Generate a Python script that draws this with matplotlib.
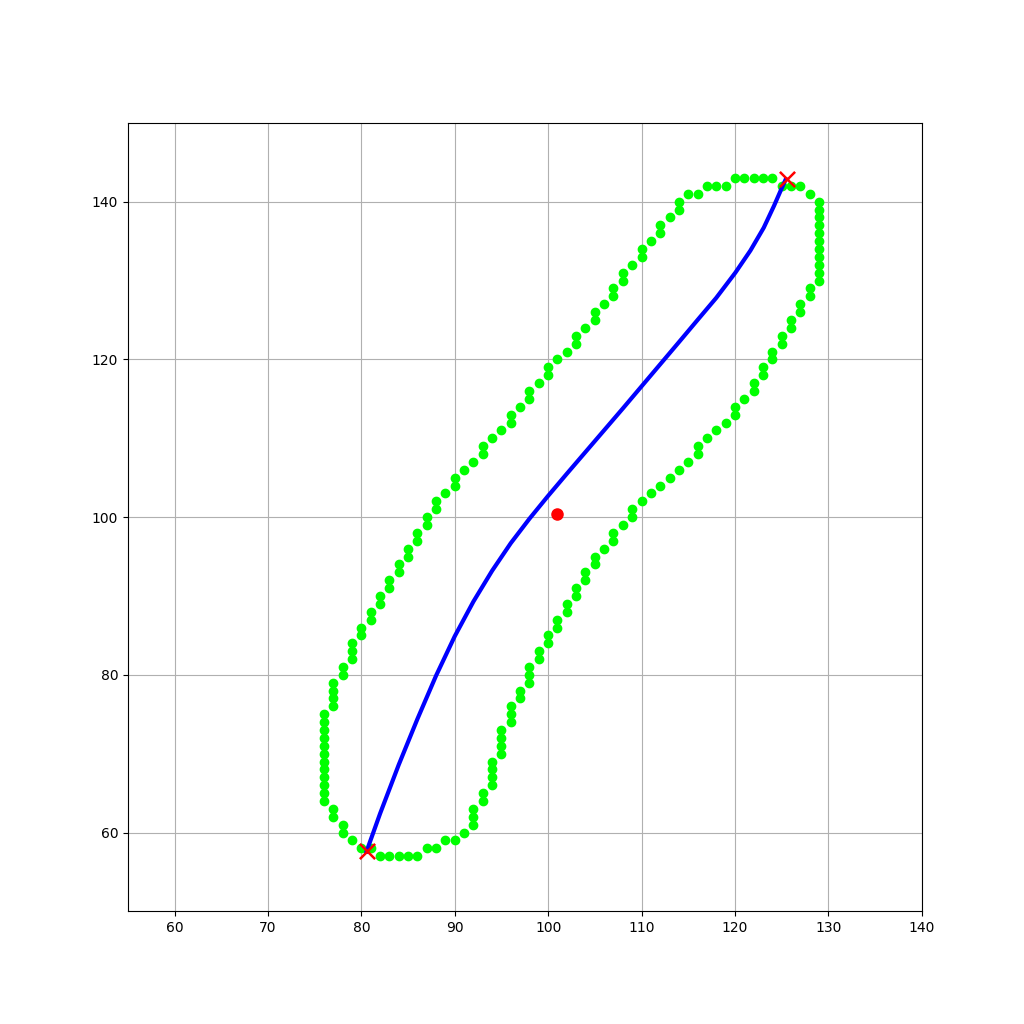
import matplotlib
matplotlib.use("Agg")
import matplotlib.pyplot as plt

# contour points (integer pixel coords), traced counter-clockwise from the bottom
contour_x = [82, 83, 84, 85, 86, 87, 88, 89, 90, 91, 92, 92, 92, 93, 93,
             94, 94, 94, 94, 95, 95, 95, 95, 96, 96, 96, 97, 97, 98, 98, 98,
             99, 99, 100, 100, 101, 101, 102, 102, 103, 103, 104, 104, 105, 105,
             106, 107, 107, 108, 109, 109, 110, 111, 112, 113, 114, 115, 116, 116,
             117, 118, 119, 120, 120, 121, 122, 122, 123, 123, 124, 124, 125, 125,
             126, 126, 127, 127, 128, 128,
             129, 129, 129, 129, 129, 129, 129, 129, 129, 129, 129,
             128, 127, 126, 125, 124, 123, 122, 121, 120, 119, 118, 117, 116, 115,
             114, 114, 113, 112, 112, 111, 110, 110, 109, 108, 108, 107, 107, 106,
             105, 105, 104, 103, 103, 102, 101, 100, 100, 99, 98, 98, 97, 96, 96,
             95, 94, 93, 93, 92, 91, 90, 90, 89, 88, 88, 87, 87, 86, 86, 85, 85,
             84, 84, 83, 83, 82, 82, 81, 81, 80, 80, 79, 79, 79, 78, 78,
             77, 77, 77, 77,
             76, 76, 76, 76, 76, 76, 76, 76, 76, 76, 76, 76,
             77, 77, 78, 78, 79, 80, 81]
contour_y = [57, 57, 57, 57, 57, 58, 58, 59, 59, 60, 61, 62, 63, 64, 65,
             66, 67, 68, 69, 70, 71, 72, 73, 74, 75, 76, 77, 78, 79, 80, 81,
             82, 83, 84, 85, 86, 87, 88, 89, 90, 91, 92, 93, 94, 95,
             96, 97, 98, 99, 100, 101, 102, 103, 104, 105, 106, 107, 108, 109,
             110, 111, 112, 113, 114, 115, 116, 117, 118, 119, 120, 121, 122, 123,
             124, 125, 126, 127, 128, 129,
             130, 131, 132, 133, 134, 135, 136, 137, 138, 139, 140,
             141, 142, 142, 142, 143, 143, 143, 143, 143, 142, 142, 142, 141, 141,
             140, 139, 138, 137, 136, 135, 134, 133, 132, 131, 130, 129, 128, 127,
             126, 125, 124, 123, 122, 121, 120, 119, 118, 117, 116, 115, 114, 113, 112,
             111, 110, 109, 108, 107, 106, 105, 104, 103, 102, 101, 100, 99, 98, 97, 96, 95,
             94, 93, 92, 91, 90, 89, 88, 87, 86, 85, 84, 83, 82, 81, 80,
             79, 78, 77, 76,
             75, 74, 73, 72, 71, 70, 69, 68, 67, 66, 65, 64,
             63, 62, 61, 60, 59, 58, 58]

# blue path
path_x = [80.55, 82.0, 84.0, 86.0, 88.0, 90.0, 92.0, 94.0, 96.0, 98.0, 100.0,
          102.0, 104.0, 106.0, 108.0, 110.0, 112.0, 114.0, 116.0, 118.0, 120.05,
          121.66, 123.09, 124.2, 124.9, 125.45]
path_y = [57.6, 62.4, 68.6, 74.4, 79.9, 84.9, 89.3, 93.2, 96.7, 99.8, 102.7,
          105.5, 108.26, 111.02, 113.78, 116.58, 119.38, 122.18, 125.0, 127.8, 131.0,
          133.8, 136.7, 139.5, 141.4, 142.85]

# end points and centre
ends_x = [80.55, 125.55]
ends_y = [57.6, 142.85]
centre_x = [100.9]
centre_y = [100.4]

fig = plt.figure(figsize=(10.24, 10.24), dpi=100)
ax = fig.add_subplot(111)

ax.scatter(contour_x, contour_y, color='lime', s=36, zorder=2)
ax.plot(path_x, path_y, color='blue', linewidth=3, solid_joinstyle='round', zorder=3)
ax.scatter(ends_x, ends_y, color='red', marker='x', s=120, linewidths=1.8, zorder=4)
ax.scatter(centre_x, centre_y, color='red', s=64, zorder=4)

ax.set_xlim(55, 140)
ax.set_ylim(50, 150)
ax.set_xticks(range(60, 141, 10))
ax.set_yticks(range(60, 141, 20))
ax.grid(True)
ax.set_axisbelow(True)

fig.savefig('out.png', dpi=100)
